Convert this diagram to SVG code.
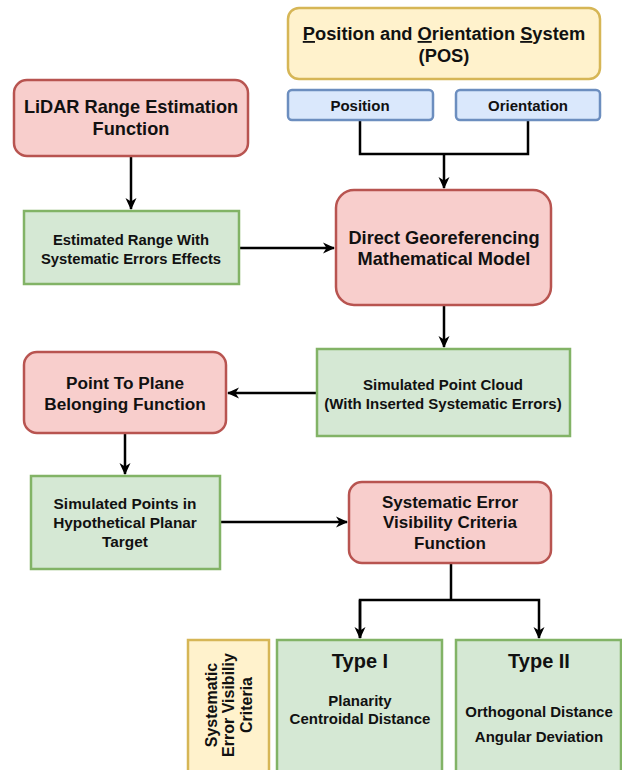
<svg xmlns="http://www.w3.org/2000/svg" width="622" height="770" viewBox="0 0 622 770">
<style>
text{font-family:"Liberation Sans",Arial,sans-serif;font-weight:bold;fill:#111;text-anchor:middle}
.red{fill:#f8cecc;stroke:#b85450;stroke-width:2.5}
.green{fill:#d5e8d4;stroke:#82b366;stroke-width:2.5}
.yellow{fill:#fff2cc;stroke:#d6b656;stroke-width:2.5}
.blue{fill:#dae8fc;stroke:#6c8ebf;stroke-width:2.5}
.c{fill:none;stroke:#000;stroke-width:2.5}
.u{text-decoration:underline}
</style>
<defs>
<marker id="ah" viewBox="0 0 12 12" refX="11" refY="6" markerWidth="12" markerHeight="12" orient="auto" markerUnits="userSpaceOnUse" style="overflow:visible">
<path d="M0,0.5 L12,6 L0,11.5 L3.5,6 Z" fill="#000"/>
</marker>
</defs>
<g id="connectors">
<path class="c" d="M360,120 V154 H528 V120"/>
<path class="c" d="M444,154 V188" marker-end="url(#ah)"/>
<path class="c" d="M131,156 V209" marker-end="url(#ah)"/>
<path class="c" d="M239,248 H334" marker-end="url(#ah)"/>
<path class="c" d="M444,305 V347" marker-end="url(#ah)"/>
<path class="c" d="M316,393 H228" marker-end="url(#ah)"/>
<path class="c" d="M125,433 V474" marker-end="url(#ah)"/>
<path class="c" d="M220,522 H347" marker-end="url(#ah)"/>
<path class="c" d="M451,563 V600"/>
<path class="c" d="M360,638 V600 H539 V638" marker-end="url(#ah)"/>
<path class="c" d="M360,600 V638" marker-end="url(#ah)"/>
</g>
<g id="pos">
<rect class="yellow" x="288" y="8" width="312" height="71" rx="11"/>
<text x="444" y="40" font-size="18.3"><tspan class="u">P</tspan>osition and <tspan class="u">O</tspan>rientation <tspan class="u">S</tspan>ystem</text>
<text x="444" y="62" font-size="18.3">(POS)</text>
</g>
<g id="position">
<rect class="blue" x="288" y="90" width="145" height="30" rx="4"/>
<text x="360" y="111" font-size="15">Position</text>
</g>
<g id="orientation">
<rect class="blue" x="456" y="90" width="144" height="30" rx="4"/>
<text x="528" y="111" font-size="15">Orientation</text>
</g>
<g id="lidar">
<rect class="red" x="14" y="80" width="234" height="76" rx="13"/>
<text x="131" y="113" font-size="18.2">LiDAR Range Estimation</text>
<text x="131" y="135" font-size="18.2">Function</text>
</g>
<g id="estimated">
<rect class="green" x="24" y="211" width="215" height="73"/>
<text x="131" y="245" font-size="14.8">Estimated Range With</text>
<text x="131" y="264" font-size="14.8">Systematic Errors Effects</text>
</g>
<g id="dgmm">
<rect class="red" x="336" y="190" width="215" height="115" rx="18"/>
<text x="444" y="244" font-size="18.2">Direct Georeferencing</text>
<text x="444" y="265" font-size="18.2">Mathematical Model</text>
</g>
<g id="cloud">
<rect class="green" x="317" y="349" width="253" height="87"/>
<text x="443" y="390" font-size="15">Simulated Point Cloud</text>
<text x="443" y="409" font-size="15">(With Inserted Systematic Errors)</text>
</g>
<g id="ptp">
<rect class="red" x="24" y="352" width="202" height="81" rx="13"/>
<text x="125" y="389" font-size="17.2">Point To Plane</text>
<text x="125" y="410" font-size="17.2">Belonging Function</text>
</g>
<g id="simpoints">
<rect class="green" x="31" y="476" width="189" height="93"/>
<text x="125" y="509" font-size="15.4">Simulated Points in</text>
<text x="125" y="528" font-size="15.4">Hypothetical Planar</text>
<text x="125" y="547" font-size="15.4">Target</text>
</g>
<g id="sevcf">
<rect class="red" x="349" y="482" width="202" height="81" rx="13"/>
<text x="450" y="508" font-size="17">Systematic Error</text>
<text x="450" y="528" font-size="17">Visibility Criteria</text>
<text x="450" y="549" font-size="17">Function</text>
</g>
<g id="criteria">
<rect class="yellow" x="188" y="640" width="81" height="140"/>
<g transform="translate(230,705) rotate(-90)">
<text x="0" y="-13" font-size="16">Systematic</text>
<text x="0" y="4" font-size="16">Error Visibiliy</text>
<text x="0" y="22" font-size="16">Criteria</text>
</g>
</g>
<g id="type1">
<rect class="green" x="277" y="640" width="165" height="140"/>
<text x="360" y="668" font-size="20">Type I</text>
<text x="360" y="706" font-size="15">Planarity</text>
<text x="360" y="724" font-size="15">Centroidal Distance</text>
</g>
<g id="type2">
<rect class="green" x="456" y="640" width="165" height="140"/>
<text x="539" y="668" font-size="20">Type II</text>
<text x="539" y="717" font-size="15">Orthogonal Distance</text>
<text x="539" y="742" font-size="15">Angular Deviation</text>
</g>
</svg>
